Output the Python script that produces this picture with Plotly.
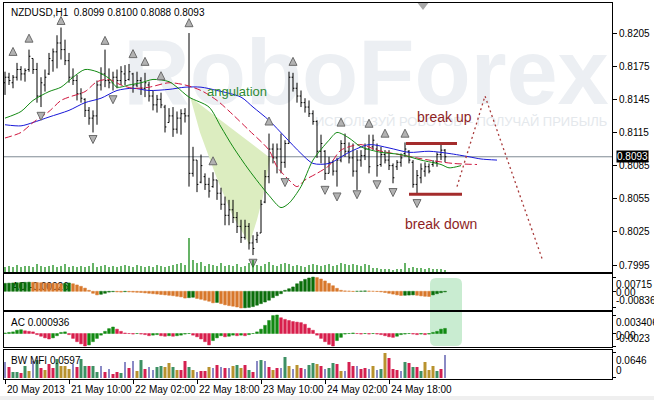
import plotly.graph_objects as go

FONT = "Liberation Sans, Arial, sans-serif"
NARROW = "Liberation Sans Narrow, Liberation Sans, Arial, sans-serif"

# ---------------- data ----------------
bars = list(range(111))

opens = [
    .8160, .8165, .8160, .8165, .8172, .8168, .8172, .8182, .8172, .8148,
    .8158, .8168, .8180, .8188, .8196, .8190, .8180, .8165, .8162, .8150,
    .8145, .8135, .8128, .8130, .8158, .8168, .8162, .8160, .8165, .8162,
    .8168, .8163, .8168, .8158, .8162, .8155, .8158, .8148, .8140, .8145,
    .8138, .8124, .8130, .8118, .8128, .8132, .8130, .8078, .8090, .8070,
    .8075, .8068, .8066, .8072, .8060, .8050, .8040, .8045, .8038, .8030,
    .8020, .8030, .8015, .8018, .8024, .8052, .8075, .8100, .8092, .8100,
    .8088, .8105, .8165, .8155, .8148, .8142, .8138, .8132, .8125, .8098,
    .8098, .8078, .8088, .8080, .8090, .8105, .8098, .8092, .8080, .8090,
    .8094, .8100, .8102, .8100, .8086, .8095, .8090, .8085, .8084, .8088,
    .8096, .8098, .8088, .8068, .8074, .8080, .8084, .8086, .8088, .8095,
    .8099]
highs = [
    .8170, .8169, .8167, .8178, .8175, .8173, .8190, .8182, .8178, .8165,
    .8172, .8187, .8191, .8203, .8210, .8199, .8187, .8173, .8167, .8155,
    .8146, .8138, .8135, .8162, .8174, .8190, .8173, .8170, .8172, .8175,
    .8176, .8177, .8169, .8170, .8165, .8169, .8161, .8153, .8149, .8151,
    .8140, .8137, .8138, .8134, .8136, .8137, .8205, .8102, .8090, .8095,
    .8078, .8074, .8079, .8072, .8065, .8057, .8054, .8054, .8043, .8036,
    .8036, .8033, .8022, .8025, .8054, .8081, .8114, .8105, .8105, .8114,
    .8108, .8170, .8169, .8160, .8153, .8146, .8144, .8135, .8126, .8113,
    .8099, .8093, .8090, .8092, .8108, .8114, .8106, .8105, .8099, .8099,
    .8105, .8113, .8113, .8105, .8102, .8099, .8099, .8087, .8090, .8096,
    .8106, .8099, .8090, .8081, .8087, .8088, .8087, .8090, .8097, .8106,
    .8100]
lows = [
    .8149, .8158, .8155, .8162, .8162, .8161, .8170, .8168, .8142, .8138,
    .8152, .8167, .8170, .8173, .8181, .8176, .8160, .8158, .8144, .8142,
    .8129, .8122, .8115, .8122, .8153, .8156, .8155, .8153, .8155, .8158,
    .8158, .8162, .8151, .8156, .8149, .8147, .8143, .8135, .8133, .8137,
    .8115, .8124, .8111, .8114, .8113, .8124, .8066, .8075, .8061, .8069,
    .8063, .8056, .8065, .8054, .8045, .8031, .8031, .8033, .8024, .8015,
    .8018, .8009, .8004, .8015, .8024, .8051, .8069, .8087, .8078, .8078,
    .8083, .8105, .8152, .8142, .8138, .8133, .8129, .8122, .8092, .8087,
    .8072, .8078, .8076, .8066, .8088, .8093, .8087, .8075, .8063, .8084,
    .8090, .8078, .8099, .8075, .8084, .8087, .8081, .8069, .8081, .8084,
    .8093, .8087, .8065, .8060, .8069, .8075, .8078, .8084, .8084, .8090,
    .8088]
closes = [
    .8165, .8162, .8165, .8172, .8168, .8171, .8184, .8172, .8148, .8160,
    .8165, .8182, .8188, .8196, .8190, .8180, .8165, .8162, .8150, .8146,
    .8135, .8128, .8130, .8158, .8168, .8162, .8160, .8165, .8162, .8170,
    .8162, .8170, .8158, .8162, .8155, .8160, .8148, .8140, .8145, .8140,
    .8120, .8130, .8118, .8128, .8132, .8130, .8078, .8090, .8068, .8085,
    .8068, .8062, .8072, .8060, .8050, .8040, .8045, .8038, .8030, .8020,
    .8030, .8015, .8010, .8022, .8050, .8075, .8100, .8092, .8100, .8088,
    .8105, .8165, .8155, .8148, .8142, .8138, .8132, .8125, .8098, .8105,
    .8078, .8088, .8080, .8090, .8105, .8098, .8092, .8080, .8090, .8094,
    .8100, .8084, .8108, .8085, .8095, .8090, .8085, .8074, .8088, .8092,
    .8100, .8090, .8068, .8076, .8082, .8084, .8080, .8088, .8095, .8099,
    .8093]
volumes = [
    200, 240, 200, 280, 200, 240, 240, 200, 320, 240,
    200, 240, 280, 200, 240, 320, 200, 240, 200, 240,
    200, 240, 360, 200, 240, 280, 200, 240, 200, 240,
    280, 240, 200, 280, 240, 200, 240, 200, 280, 240,
    200, 240, 280, 320, 360, 280, 1360, 480, 360, 400,
    240, 320, 280, 240, 360, 240, 280, 240, 320, 200,
    240, 360, 480, 280, 240, 320, 400, 280, 240, 320,
    360, 320, 240, 280, 240, 200, 280, 320, 280, 240,
    280, 320, 240, 280, 360, 320, 280, 320, 280, 240,
    320, 280, 160, 160, 120, 120, 120, 80, 120, 120,
    360, 160, 200, 160, 160, 120, 160, 120, 120, 120,
    80]

# Alligator lines (bar index, price)
jaw_x = [0, 4, 7, 11, 16, 20, 24, 28, 32, 36, 41, 45, 49, 53, 59, 62, 66, 70, 74, 77,
         81, 86, 91, 96, 101, 106, 111, 116, 119, 123]
jaw_p = [.8122, .8121, .8124, .8129, .8135, .8142, .8146, .8153, .8155, .8153,
         .8154, .8156, .8156, .8153, .8147, .8138, .8126, .8111, .8096, .8087,
         .8087, .8097, .8104, .8101, .8097, .8098, .8096, .8093, .8091, .8090]
teeth_x = [0, 4, 7, 11, 14, 16, 20, 23, 26, 29, 32, 36, 41, 45, 49, 53, 57, 61, 66, 68,
           71, 73, 75, 78, 81, 84, 89, 93, 100, 106, 112, 118]
teeth_p = [.8110, .8115, .8124, .8134, .8144, .8147, .8152, .8161, .8163, .8158,
           .8155, .8156, .8160, .8158, .8153, .8144, .8131, .8117, .8099, .8084,
           .8072, .8066, .8072, .8078, .8085, .8099, .8104, .8099, .8094, .8090,
           .8087, .8086]
lips_x = [0, 4, 7, 11, 14, 17, 20, 23, 26, 28, 31, 34, 37, 41, 43, 46, 51, 54, 57, 61,
          66, 69, 71, 74, 77, 81, 83, 86, 89, 94, 99, 104, 109, 111, 114]
lips_p = [.8128, .8134, .8144, .8152, .8156, .8165, .8172, .8170, .8164, .8156,
          .8158, .8160, .8163, .8161, .8156, .8147, .8138, .8120, .8102, .8081,
          .8058, .8047, .8051, .8066, .8090, .8108, .8115, .8110, .8102, .8097,
          .8095, .8090, .8086, .8083, .8085]

# Fractals (bar index, price at arrow tip)
frac_up_x = [2, 6, 14, 25, 32, 35, 39, 46, 52, 66, 72, 84, 91, 95, 100]
frac_up_p = [.8192, .8204, .8220, .8202, .8190, .8183, .8170, .8218, .8093, .8129,
             .8183, .8128, .8127, .8118, .8118]
frac_dn_x = [9, 22, 27, 62, 70, 80, 83, 88, 93, 97, 103]
frac_dn_p = [.8126, .8105, .8141, .7993, .8066, .8059, .8053, .8055, .8064, .8057, .8047]

# Awesome Oscillator
ao = [
    .0040, .0041, .0042, .0043, .0044, .0045, .0046,
    .0045, .0044, .0043, .0042, .0041, .0040, .0039, .0038,
    .0040, .0042,
    .0038, .0032, .0025, .0016, .0005,
    -.0010, -.0018,
    -.0015, -.0010, -.0004, -.0002,
    -.0003, -.0004, -.0002, -.0003, -.0004, -.0005, -.0006,
    -.0008, -.0010, -.0012, -.0014, -.0016, -.0018, -.0020, -.0022, -.0025, -.0028, -.0034,
    -.0032, -.0030,
    -.0036, -.0040, -.0045, -.0050, -.0058,
    -.0056,
    -.0062, -.0068, -.0072, -.0075, -.0079, -.0084,
    -.0083, -.0081, -.0077, -.0070, -.0062, -.0054, -.0045, -.0032, -.0022, -.0012,
    .0005, .0013, .0022, .0038, .0050, .0060, .0067, .00715,
    .0069, .0062, .0052, .0040, .0028, .0015, .0005,
    .0002, .0001, -.0001, .0000, .0001, .0002, .0001, .0000, -.0001, -.0003,
    -.0006, -.0010, -.0014, -.0018, -.0021,
    -.0020, -.0019, -.0018,
    -.0020, -.0023, -.0025, -.0026,
    -.0018, -.0012, -.0007, -.0003]

# Accelerator Oscillator
ac = [
    .0001, .0002, .0003, .0006, .0007, .0005, .0004, .0003, -.0002, -.0005,
    -.0008, -.0010, -.0008, -.0004, .0002, .0003, -.0002, -.0009, -.0015, -.0019,
    -.0023, -.0021, -.0015, -.0009, -.0003, .0004, .0009, .0012, .0008, .0004,
    .0001, .0000, -.0001, .0000, -.0001, -.0002, -.0004, -.0003, -.0002, -.0004,
    -.0005, -.0004, -.0005, -.0004, -.0003, -.0001, .0000, -.0003, -.0006, -.0010,
    -.0015, -.0021, -.0013, -.0008, -.0004, -.0006, -.0005, -.0003, -.0004, -.0003,
    -.0004, -.0002, .0000, .0003, .0008, .0015, .0024, .0033, .003406, .0029,
    .0026, .0024, .0022, .0021, .0020, .0017, .0010, .0006, -.0003, -.0009,
    -.0015, -.0020, -.0023, -.0013, -.0007, -.0001, .0000, .0001, .0000, -.0001,
    .0000, -.0001, .0000, -.0001, -.0002, -.0004, -.0006, -.0007, -.0005, -.0002,
    -.0001, .0000, -.0001, -.0002, -.0001, -.0002, -.0001, .0002, .0004, .0008,
    .000936]

# Market Facilitation Index
mfi = [
    .0413, .0284, .0155, .0155, .0129, .0310, .0181, .0439, .0464, .0258,
    .0206, .0361, .0258, .0490, .0310, .0310, .0232, .0361, .0284, .0490,
    .0310, .0310, .0310, .0155, .0310, .0155, .0232, .0103, .0155, .0129,
    .0413, .0258, .0439, .0181, .0464, .0232, .0284, .0206, .0284, .0310,
    .0284, .0387, .0284, .0206, .0206, .0439, .0284, .0206, .0155, .0181,
    .0181, .0284, .0258, .0335, .0284, .0258, .0258, .0310, .0335, .0258,
    .0335, .0206, .0155, .0439, .0464, .0439, .0284, .0206, .0258, .0258,
    .0542, .0310, .0232, .0335, .0258, .0232, .0335, .0387, .0361, .0310,
    .0232, .0258, .0387, .0361, .0181, .0181, .0413, .0310, .0310, .0232,
    .0258, .0232, .0310, .0206, .0232, .0646, .0516, .0232, .0206, .0181,
    .0413, .0387, .0284, .0284, .0181, .0413, .0206, .0310, .0181, .0232,
    .0597]
mfi_kind = list(
    "brggrgybgr" "yrrgyyybrg" "grggbrbrrg" "brbygrbbgg" "yygyrrgybr"
    "rybrbrbygy" "rgrbgbryrb" "gybyrbggyr" "bggrybrrbr" "rbybgyrrrb"
    "grgrgyyygr" "b")

# axis labels
price_ticks = [0.7995, 0.8025, 0.8055, 0.8085, 0.8115, 0.8145, 0.8175, 0.8205]
date_ticks = [0, 16, 32, 48, 64, 80, 96]
date_labels = ["20 May 2013", "21 May 10:00", "22 May 02:00", "22 May 18:00",
               "23 May 10:00", "24 May 02:00", "24 May 18:00"]
last_price = 0.8093
title_text = "NZDUSD,H1\u00a0 0.8099 0.8100 0.8088 0.8093"

# drawing objects (bar index, price)
tri_x = [46.3, 48.75, 53, 57, 60.5, 61, 63, 64.5, 66.3]
tri_p = [.8147, .8115, .8073, .8039, .8018, .8013, .8036, .8057, .8092]
break_up_x = [100.25, 113]
break_up_p = [.8105, .8105]
break_dn_x = [101, 114.25]
break_dn_p = [.8059, .8059]
forecast_x = [113, 120, 134.25]
forecast_p = [.8066, .8148, .8001]

# ---------------- figure ----------------
def xp(px):
    return (px - 4) / 608.0


def yp(py):
    return (379 - py) / 376.0


XR = [-0.25, 151.75]
fig = go.Figure()

# volume (main panel, bottom)
fig.add_trace(go.Bar(x=bars, y=volumes, xaxis="x", yaxis="y5", width=0.3,
                     marker=dict(color="#008000", line=dict(width=0)),
                     hoverinfo="skip", showlegend=False))

fig.add_trace(go.Ohlc(x=bars, open=opens, high=highs, low=lows, close=closes,
                      increasing=dict(line=dict(color="black", width=1)),
                      decreasing=dict(line=dict(color="black", width=1)),
                      tickwidth=0.35, xaxis="x", yaxis="y",
                      hoverinfo="skip", showlegend=False))

for xs, ys, col, dash in [(jaw_x, jaw_p, "#1818d8", "solid"),
                          (teeth_x, teeth_p, "#d0163e", "7px,3px"),
                          (lips_x, lips_p, "#138a13", "solid")]:
    fig.add_trace(go.Scatter(x=xs, y=ys, mode="lines",
                             line=dict(color=col, width=1, dash=dash,
                                       shape="spline", smoothing=0.8),
                             xaxis="x", yaxis="y", hoverinfo="skip", showlegend=False))

fig.add_trace(go.Scatter(x=frac_up_x, y=frac_up_p, mode="markers",
                         marker=dict(symbol="arrow-up", size=8, color="#b2b2b2",
                                     line=dict(color="#6c6c6c", width=1)),
                         xaxis="x", yaxis="y", hoverinfo="skip", showlegend=False))
fig.add_trace(go.Scatter(x=frac_dn_x, y=frac_dn_p, mode="markers",
                         marker=dict(symbol="arrow-down", size=8, color="#b2b2b2",
                                     line=dict(color="#6c6c6c", width=1)),
                         xaxis="x", yaxis="y", hoverinfo="skip", showlegend=False))

for xs, ys in [(break_up_x, break_up_p), (break_dn_x, break_dn_p)]:
    fig.add_trace(go.Scatter(x=xs, y=ys, mode="lines",
                             line=dict(color="#a42c2c", width=3),
                             xaxis="x", yaxis="y", hoverinfo="skip", showlegend=False))
fig.add_trace(go.Scatter(x=forecast_x, y=forecast_p, mode="lines",
                         line=dict(color="#a83a3a", width=1.3, dash="2px,3px"),
                         xaxis="x", yaxis="y", hoverinfo="skip", showlegend=False))

# chart shift marker
fig.add_trace(go.Scatter(x=[104.5], y=[0.82322], mode="markers",
                         marker=dict(symbol="triangle-down", size=14, color="#a8a8a8"),
                         xaxis="x", yaxis="y", hoverinfo="skip", showlegend=False))

# AO
ao_cols = []
for k, v in enumerate(ao):
    ao_cols.append("#0b6e0b" if (k == 0 or v > ao[k - 1]) else "#d8782c")
fig.add_trace(go.Bar(x=bars, y=ao, width=0.7, xaxis="x2", yaxis="y2",
                     marker=dict(color=ao_cols, line=dict(color=ao_cols, width=0.5)),
                     hoverinfo="skip", showlegend=False))

# AC
ac_cols = []
for k, v in enumerate(ac):
    ac_cols.append("#128a12" if (k == 0 or v > ac[k - 1]) else "#d81f4c")
fig.add_trace(go.Bar(x=bars, y=ac, width=0.7, xaxis="x3", yaxis="y3",
                     marker=dict(color=ac_cols, line=dict(color=ac_cols, width=0.5)),
                     hoverinfo="skip", showlegend=False))

# BW MFI
mfi_colors = {"g": "#3d9063", "y": "#b8922e", "r": "#d42050", "b": "#16168c"}
for code, col in mfi_colors.items():
    xs = [b for b, k in zip(bars, mfi_kind) if k == code]
    ys = [v for v, k in zip(mfi, mfi_kind) if k == code]
    fig.add_trace(go.Bar(x=xs, y=ys, width=0.25 if code == "b" else 0.75,
                         xaxis="x4", yaxis="y4",
                         marker=dict(color=col, line=dict(width=0)),
                         hoverinfo="skip", showlegend=False))

# ---------------- layout ----------------
box = dict(showgrid=False, zeroline=False, showline=True, linecolor="black",
           linewidth=1, mirror=True)
tickf = dict(family=FONT, size=10, color="black")

layout = dict(
    width=654, height=400, margin=dict(l=4, r=42, t=3, b=21),
    paper_bgcolor="white", plot_bgcolor="rgba(0,0,0,0)",
    showlegend=False, barmode="overlay", font=dict(family=FONT, size=10, color="black"),
    xaxis=dict(**box, domain=[0, 1], range=XR, anchor="y", showticklabels=False,
               ticks="", rangeslider=dict(visible=False)),
    xaxis2=dict(**box, domain=[0, 1], range=XR, anchor="y2", showticklabels=False, ticks=""),
    xaxis3=dict(**box, domain=[0, 1], range=XR, anchor="y3", showticklabels=False, ticks=""),
    xaxis4=dict(**box, domain=[0, 1], range=XR, anchor="y4", showticklabels=False,
                tickvals=date_ticks, ticks="outside", ticklen=4, tickcolor="black"),
    yaxis=dict(**box, domain=[yp(272), 1], range=[0.79887, 0.82322], side="right",
               anchor="x", tickvals=price_ticks, ticktext=[f"{v:.4f}" for v in price_ticks],
               ticks="outside", ticklen=4, tickcolor="black", tickfont=tickf,
               automargin=False),
    yaxis5=dict(overlaying="y", range=[0, 10760], visible=False, anchor="x", side="right"),
    yaxis2=dict(**box, domain=[yp(310), yp(274)], range=[-0.0094, 0.0087], side="right",
                anchor="x2", tickvals=[0.00715, 0, -0.00836], showticklabels=False,
                ticks="outside", ticklen=3, tickcolor="black"),
    yaxis3=dict(**box, domain=[yp(347), yp(312)], range=[-0.00248, 0.00396], side="right",
                anchor="x3", tickvals=[0.003406, 0, -0.0023], showticklabels=False,
                ticks="outside", ticklen=3, tickcolor="black"),
    yaxis4=dict(**box, domain=[0, yp(350)], range=[-0.0026, 0.0723], side="right",
                anchor="x4", tickvals=[0.0646, 0], showticklabels=False,
                ticks="outside", ticklen=3, tickcolor="black"),
)
fig.update_layout(**layout)

shapes = []
# bottom grey strip
shapes.append(dict(type="rect", xref="paper", yref="paper", x0=xp(0), x1=xp(654),
                   y0=yp(400), y1=yp(396), fillcolor="#efefef", line=dict(width=0),
                   layer="below"))
# watermark
shapes.append(dict(type="rect", xref="paper", yref="paper", x0=xp(120), x1=xp(612),
                   y0=yp(105), y1=yp(20), line=dict(width=0), fillcolor="rgba(0,0,0,0)",
                   layer="below",
                   label=dict(text="<b>RoboForex</b>", textposition="middle center",
                              font=dict(family=FONT, size=92, color="#eceff3"))))
shapes.append(dict(type="rect", xref="paper", yref="paper", x0=xp(312), x1=xp(612),
                   y0=yp(128), y1=yp(112), line=dict(width=0), fillcolor="rgba(0,0,0,0)",
                   layer="below",
                   label=dict(text="ИСПОЛЬЗУЙ РОБОТОВ – ПОЛУЧАЙ ПРИБЫЛЬ",
                              textposition="middle left", padding=0,
                              font=dict(family=FONT, size=13, color="#e4e8ec"))))
# AO label (behind the histogram)
shapes.append(dict(type="rect", xref="paper", yref="paper", x0=xp(9), x1=xp(90),
                   y0=yp(291), y1=yp(279), line=dict(width=0), fillcolor="rgba(0,0,0,0)",
                   layer="below",
                   label=dict(text="AO -0.00026", textposition="middle left", padding=0,
                              font=dict(family=FONT, size=10, color="black"))))
# angulation triangle
path = "M " + " L ".join(f"{a},{b}" for a, b in zip(tri_x, tri_p)) + " Z"
shapes.append(dict(type="path", xref="x", yref="y", path=path, fillcolor="#dcedc0",
                   line=dict(width=0), layer="below"))
# current price line
shapes.append(dict(type="line", xref="paper", yref="y", x0=0, x1=1, y0=last_price,
                   y1=last_price, line=dict(color="#7f8a94", width=1), layer="below"))
# highlight box over AO / AC
bx0, bx1 = 106.25, 114.25
by0, by1 = yp(346), yp(278)
rx, ry = 1.5, 0.016
hl = (f"M {bx0 + rx},{by1} L {bx1 - rx},{by1} Q {bx1},{by1} {bx1},{by1 - ry} "
      f"L {bx1},{by0 + ry} Q {bx1},{by0} {bx1 - rx},{by0} L {bx0 + rx},{by0} "
      f"Q {bx0},{by0} {bx0},{by0 + ry} L {bx0},{by1 - ry} Q {bx0},{by1} {bx0 + rx},{by1} Z")
shapes.append(dict(type="path", xref="x", yref="paper", path=hl, fillcolor="#c9ecd1",
                   line=dict(width=0), layer="below"))
fig.update_layout(shapes=shapes)

ann = []
ann.append(dict(text=title_text, xref="paper", yref="paper", x=xp(9), y=yp(13),
                xanchor="left", yanchor="middle", showarrow=False,
                font=dict(family=FONT, size=10, color="black")))
ann.append(dict(text=f"{last_price:.4f}", xref="paper", yref="y", x=1, xshift=4,
                y=last_price, xanchor="left", yanchor="middle", showarrow=False,
                bgcolor="black", borderpad=0, font=dict(family=FONT, size=10, color="white")))
right_labels = [("y2", 0.00715, "0.00715", "top", 0), ("y2", 0, "0.00", "middle", -1),
                ("y2", -0.00836, "-0.00836", "bottom", 0),
                ("y3", 0.003406, "0.003406", "top", 0), ("y3", 0, "0.00", "middle", -2),
                ("y3", -0.0023, "-0.0023", "bottom", 0),
                ("y4", 0.0646, "0.0646", "top", 0), ("y4", 0, "0", "bottom", 0)]
for yr, v, t, ya, ys in right_labels:
    ann.append(dict(text=t, xref="paper", yref=yr, x=1, xshift=2, y=v, yshift=ys,
                    xanchor="left", yanchor=ya, showarrow=False,
                    font=dict(family=NARROW, size=10, color="black")))
ann.append(dict(text="AC 0.000936", xref="paper", yref="paper", x=xp(9), y=yp(322),
                xanchor="left", yanchor="middle", showarrow=False,
                font=dict(family=FONT, size=10, color="black")))
ann.append(dict(text="BW MFI 0.0597", xref="paper", yref="paper", x=xp(9), y=yp(360),
                xanchor="left", yanchor="middle", showarrow=False,
                font=dict(family=FONT, size=10, color="black")))
for t, lab in zip(date_ticks, date_labels):
    ann.append(dict(text=lab, xref="x4", yref="paper", x=t, y=0, xshift=0, yshift=-3,
                    xanchor="left", yanchor="top", showarrow=False,
                    font=dict(family=FONT, size=10, color="black")))
ann.append(dict(text="angulation", xref="x", yref="y", x=58, y=0.8152, showarrow=False,
                font=dict(family=FONT, size=13, color="#2f8a34")))
ann.append(dict(text="break up", xref="x", yref="y", x=109.75, y=0.8129, showarrow=False,
                font=dict(family=FONT, size=14, color="#8e1f1f")))
ann.append(dict(text="break down", xref="x", yref="y", x=109, y=0.8032, showarrow=False,
                font=dict(family=FONT, size=14, color="#8e1f1f")))
fig.update_layout(annotations=ann)

fig.write_html("out.html", config={"displayModeBar": False, "staticPlot": True},
               post_script="document.body.style.margin='0px';document.body.style.overflow='hidden';")
